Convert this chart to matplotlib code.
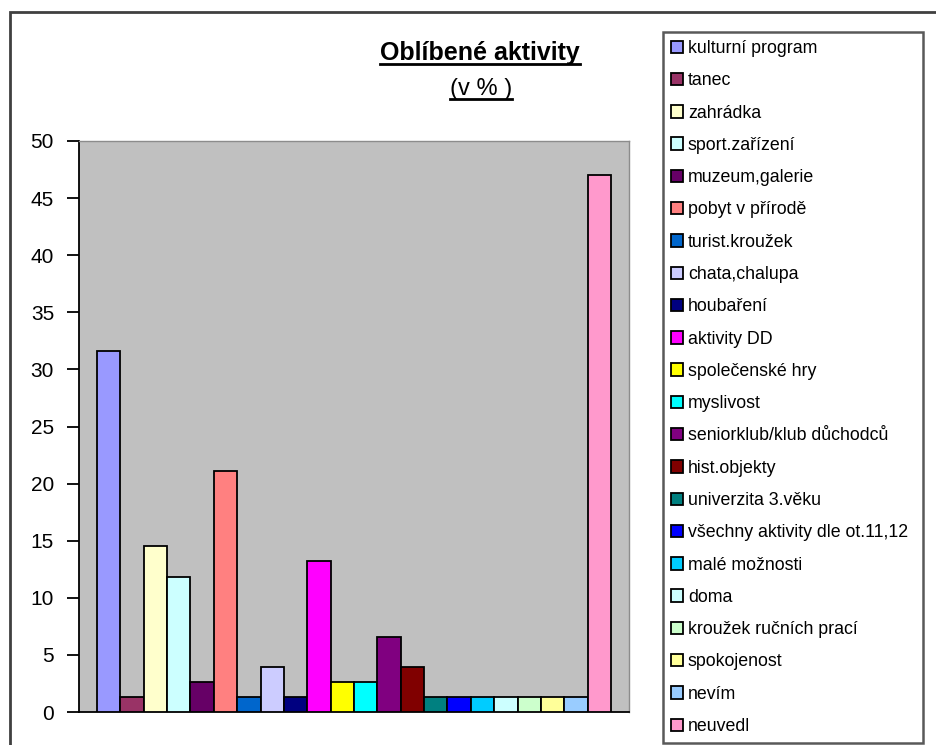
#
# Oblibene aktivity - bar chart
#

import matplotlib
matplotlib.use('Agg')
import matplotlib.pyplot as plt
from matplotlib.patches import Rectangle
from matplotlib.lines import Line2D

# data
activities = ['kulturní program', 'tanec', 'zahrádka', 'sport.zařízení',
              'muzeum,galerie', 'pobyt v přírodě', 'turist.kroužek',
              'chata,chalupa', 'houbaření', 'aktivity DD', 'společenské hry',
              'myslivost', 'seniorklub/klub důchodců', 'hist.objekty',
              'univerzita 3.věku', 'všechny aktivity dle ot.11,12',
              'malé možnosti', 'doma', 'kroužek ručních prací', 'spokojenost',
              'nevím', 'neuvedl']
percent = [31.6, 1.3, 14.5, 11.8, 2.6, 21.1, 1.3, 3.9, 1.3, 13.2, 2.6,
           2.6, 6.6, 3.9, 1.3, 1.3, 1.3, 1.3, 1.3, 1.3, 1.3, 47.0]
colors = ['#9999FF', '#993366', '#FFFFCC', '#CCFFFF', '#660066', '#FF8080',
          '#0066CC', '#CCCCFF', '#000080', '#FF00FF', '#FFFF00', '#00FFFF',
          '#800080', '#800000', '#008080', '#0000FF', '#00CCFF', '#CCFFFF',
          '#CCFFCC', '#FFFF99', '#99CCFF', '#FF99CC']
yticks = list(range(0, 51, 5))

plt.rcParams['font.family'] = ['Liberation Sans', 'DejaVu Sans']

W, H = 936, 745
fig = plt.figure(figsize=(W / 100, H / 100), dpi=100)
fig.patch.set_facecolor('white')

# plot area
ax = fig.add_axes([79 / W, 1 - 712 / H, 550 / W, (712 - 141) / H])
ax.set_facecolor('#C0C0C0')
for i, (name, val, col) in enumerate(zip(activities, percent, colors)):
    ax.bar(i, val, width=1.0, color=col, edgecolor='black', linewidth=1.3,
           label=name, zorder=3)

ax.set_xlim(-0.5 - 0.77, len(activities) - 0.5 + 0.77)
ax.set_ylim(0, 50)
ax.set_yticks(yticks)
ax.set_xticks([])
ax.tick_params(axis='y', direction='out', length=9, width=1.3, pad=9,
               labelsize=15, colors='black')
for s in ['top', 'right']:
    ax.spines[s].set_color('#8C8C8C')
    ax.spines[s].set_linewidth(1.0)
for s in ['left', 'bottom']:
    ax.spines[s].set_color('black')
    ax.spines[s].set_linewidth(1.3)

# legend
leg = fig.legend(loc='upper left', bbox_to_anchor=(663 / W, 0, 260 / W, 1 - 32 / H),
                 mode='expand', fontsize=12.8, frameon=True, fancybox=False,
                 edgecolor='#303030', borderaxespad=0, handlelength=0.7,
                 handleheight=0.7, handletextpad=0.25, labelspacing=0.86,
                 borderpad=0.45)
leg.get_frame().set_linewidth(1.8)

# title (underlined)
t1 = fig.text(480 / W, 1 - 53 / H, 'Oblíbené aktivity', ha='center', va='center',
              fontsize=18, fontweight='bold')
t2 = fig.text(481 / W, 1 - 89 / H, '(v % )', ha='center', va='center', fontsize=17)
fig.canvas.draw()
inv = fig.transFigure.inverted()
for t in (t1, t2):
    bb = t.get_window_extent()
    (x0, y0), (x1, _) = inv.transform([(bb.x0, bb.y0), (bb.x1, bb.y1)])
    fig.add_artist(Line2D([x0, x1], [y0 + 1 / H, y0 + 1 / H], color='black',
                          linewidth=2, transform=fig.transFigure))

# outer chart frame (continues past the picture edge)
fig.add_artist(Rectangle((10 / W, -0.2), 1.2, 1.2 - 12 / H, fill=False,
                         edgecolor='#404040', linewidth=2,
                         transform=fig.transFigure, clip_on=False))

fig.savefig('out.png', dpi=100)
